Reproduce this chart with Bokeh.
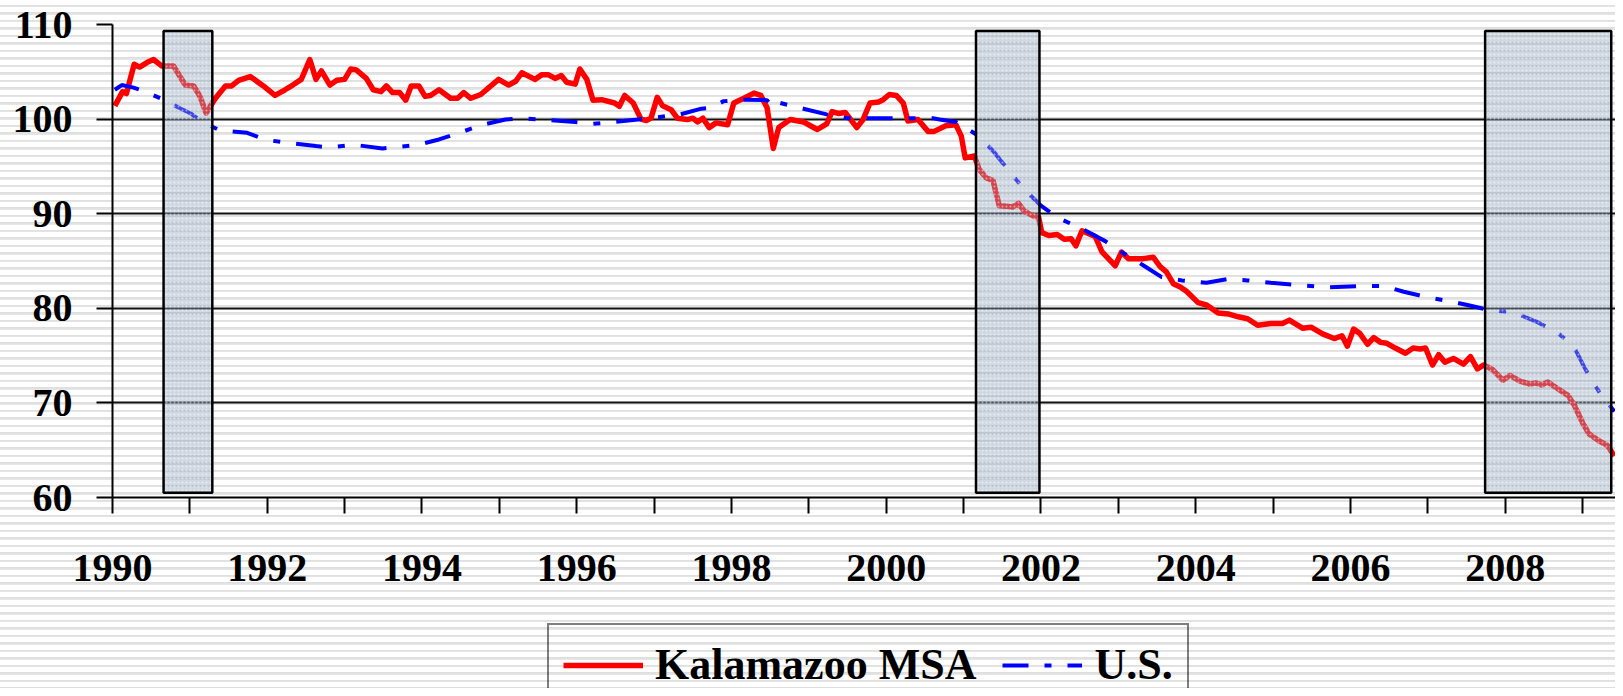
from bokeh.plotting import figure
from bokeh.models import (ColumnDataSource, Range1d, FixedTicker, Legend, LegendItem)
from bokeh.layouts import column
from bokeh.embed import file_html
from bokeh.resources import INLINE

# ---- data (decimal year, index value) ----
kz_year = [1990.03, 1990.13, 1990.18, 1990.28, 1990.35, 1990.45, 1990.53, 1990.64, 1990.79, 1990.94,
           1991.05, 1991.13, 1991.21, 1991.33, 1991.46, 1991.54, 1991.63, 1991.78, 1991.95, 1992.10,
           1992.23, 1992.33, 1992.44, 1992.55, 1992.63, 1992.70, 1992.81, 1992.90, 1993.00, 1993.08,
           1993.15, 1993.28, 1993.37, 1993.47, 1993.54, 1993.62, 1993.71, 1993.79, 1993.86, 1993.96,
           1994.04, 1994.11, 1994.22, 1994.37, 1994.46, 1994.54, 1994.63, 1994.76, 1994.86, 1994.99,
           1995.12, 1995.21, 1995.29, 1995.46, 1995.55, 1995.63, 1995.72, 1995.80, 1995.87, 1995.98,
           1996.04, 1996.13, 1996.21, 1996.32, 1996.49, 1996.55, 1996.62, 1996.73, 1996.83, 1996.90,
           1996.96, 1997.04, 1997.11, 1997.22, 1997.30, 1997.43, 1997.50, 1997.56, 1997.63, 1997.71,
           1997.80, 1997.95, 1998.03, 1998.16, 1998.29, 1998.38, 1998.46, 1998.54, 1998.61, 1998.76,
           1998.93, 1999.02, 1999.11, 1999.23, 1999.30, 1999.38, 1999.47, 1999.62, 1999.70, 1999.79,
           1999.90, 1999.96, 2000.04, 2000.13, 2000.22, 2000.28, 2000.41, 2000.54, 2000.62, 2000.77,
           2000.90, 2000.97, 2001.02, 2001.14, 2001.20, 2001.29, 2001.38, 2001.46, 2001.55, 2001.63,
           2001.71, 2001.78, 2001.89, 2001.97, 2002.01, 2002.10, 2002.21, 2002.30, 2002.39, 2002.45,
           2002.53, 2002.70, 2002.79, 2002.96, 2003.04, 2003.13, 2003.24, 2003.32, 2003.45, 2003.54,
           2003.62, 2003.71, 2003.80, 2003.88, 2004.03, 2004.14, 2004.29, 2004.42, 2004.55, 2004.67,
           2004.80, 2004.97, 2005.12, 2005.21, 2005.38, 2005.49, 2005.64, 2005.79, 2005.89, 2005.96,
           2006.04, 2006.12, 2006.22, 2006.30, 2006.39, 2006.47, 2006.58, 2006.71, 2006.81, 2006.90,
           2006.97, 2007.06, 2007.14, 2007.22, 2007.33, 2007.46, 2007.55, 2007.64, 2007.72, 2007.84,
           2007.97, 2008.06, 2008.19, 2008.32, 2008.40, 2008.47, 2008.55, 2008.66, 2008.81, 2008.89,
           2009.00, 2009.08, 2009.21, 2009.32, 2009.41]
kz_value = [101.4, 102.9, 102.7, 105.8, 105.5, 106.0, 106.3, 105.6, 105.6, 103.6,
            103.5, 102.4, 100.65, 102.2, 103.5, 103.5, 104.1, 104.5, 103.5, 102.5,
            103.1, 103.6, 104.2, 106.3, 104.2, 105.1, 103.6, 104.1, 104.2, 105.3,
            105.2, 104.3, 103.1, 102.9, 103.5, 102.8, 102.8, 102.0, 103.5, 103.5,
            102.4, 102.5, 103.1, 102.2, 102.2, 102.8, 102.2, 102.6, 103.3, 104.2,
            103.6, 104.0, 104.9, 104.2, 104.7, 104.7, 104.3, 104.6, 103.9, 103.7,
            105.3, 104.2, 102.0, 102.05, 101.7, 101.35, 102.5, 101.7, 100.0, 99.85,
            100.1, 102.3, 101.4, 101.0, 100.1, 99.95, 100.1, 99.7, 100.1, 99.1,
            99.6, 99.4, 101.7, 102.2, 102.75, 102.5, 101.2, 96.9, 99.1, 99.95,
            99.7, 99.3, 98.9, 99.5, 100.8, 100.6, 100.7, 99.1, 99.95, 101.7,
            101.8, 102.05, 102.6, 102.5, 101.7, 99.8, 99.95, 98.7, 98.7, 99.3,
            99.4, 98.2, 95.9, 96.1, 94.7, 93.8, 93.5, 90.85, 90.8, 90.7,
            91.1, 90.3, 89.8, 89.6, 88.0, 87.7, 87.8, 87.3, 87.35, 86.6,
            88.2, 87.6, 85.95, 84.5, 85.95, 85.25, 85.25, 85.25, 85.4, 84.4,
            83.85, 82.6, 82.25, 81.8, 80.6, 80.35, 79.5, 79.4, 79.1, 78.9,
            78.2, 78.4, 78.4, 78.75, 77.9, 78.0, 77.3, 76.8, 77.1, 76.0,
            77.8, 77.35, 76.2, 76.9, 76.4, 76.3, 75.8, 75.25, 75.8, 75.7,
            75.8, 74.0, 75.1, 74.3, 74.7, 74.1, 74.9, 73.6, 74.0, 73.5,
            72.4, 72.9, 72.3, 72.0, 72.1, 71.9, 72.2, 71.6, 70.8, 69.8,
            67.9, 66.75, 66.0, 65.5, 64.4]

us_year = [1990.03, 1990.12, 1990.26, 1990.36, 1990.62, 1990.86, 1991.01, 1991.16, 1991.39, 1991.74,
           1991.99, 1992.25, 1992.63, 1992.81, 1993.11, 1993.49, 1993.62, 1993.96, 1994.22, 1994.50,
           1994.78, 1995.08, 1995.29, 1995.63, 1995.98, 1996.21, 1996.49, 1996.79, 1997.05, 1997.34,
           1997.61, 1997.73, 1997.90, 1998.18, 1998.46, 1998.54, 1998.63, 1998.93, 1999.23, 1999.49,
           1999.79, 2000.13, 2000.39, 2000.60, 2000.69, 2000.90, 2001.20, 2001.40, 2001.57, 2001.78,
           2002.00, 2002.21, 2002.53, 2002.83, 2003.01, 2003.32, 2003.56, 2003.82, 2004.14, 2004.42,
           2004.67, 2004.97, 2005.27, 2005.70, 2006.11, 2006.43, 2006.69, 2006.97, 2007.37, 2007.54,
           2007.80, 2008.10, 2008.40, 2008.68, 2008.89, 2009.04, 2009.21, 2009.41]
us_value = [103.1, 103.6, 103.35, 103.1, 102.2, 101.2, 100.6, 99.7, 98.8, 98.55,
            97.8, 97.5, 97.15, 97.0, 97.3, 96.9, 97.0, 97.3, 97.85, 98.6,
            99.4, 99.95, 100.1, 99.9, 99.7, 99.5, 99.7, 99.95, 100.2, 100.5,
            101.1, 101.2, 101.9, 102.05, 102.0, 101.2, 101.7, 101.1, 100.5, 100.1,
            100.1, 100.1, 100.1, 100.1, 99.95, 99.7, 98.2, 96.45, 94.7, 92.6,
            90.85, 89.6, 88.4, 87.1, 86.1, 84.55, 83.3, 82.95, 82.7, 83.1,
            82.95, 82.7, 82.5, 82.2, 82.35, 82.35, 81.75, 81.2, 80.6, 80.3,
            79.8, 79.6, 78.6, 77.4, 75.9, 73.5, 71.2, 69.1]

rec_start = [1990.66, 2001.16, 2007.74]
rec_end = [1991.29, 2001.98, 2009.37]
rec_bottom = [60.5, 60.5, 60.5]
rec_top = [109.3, 109.3, 109.3]

y_ticks = [60, 70, 80, 90, 100, 110]
x_ticks = list(range(1990, 2010))
x_labels = {t: (str(t) if t % 2 == 0 else "") for t in x_ticks}
series_names = ["Kalamazoo MSA", "U.S."]

FONT = "Liberation Serif"
RED = dict(line_color="#ff0000", line_width=5.5, line_join="round")
BLUE = dict(line_color="#0000ff", line_width=4, line_dash="26 16 7 16")

# ---- main chart ----
p = figure(frame_width=1503, frame_height=473, output_backend="svg", toolbar_location=None,
           x_range=Range1d(1990.0, 2009.425), y_range=Range1d(60, 110),
           min_border_left=112, min_border_right=0, min_border_top=24, min_border_bottom=104)
p.background_fill_alpha = 0
p.border_fill_alpha = 0
p.outline_line_color = None

red = p.line(kz_year, kz_value, **RED)
blue = p.line(us_year, us_value, **BLUE)

rsrc = ColumnDataSource(dict(left=rec_start, right=rec_end, bottom=rec_bottom, top=rec_top))
p.quad(left="left", right="right", bottom="bottom", top="top", source=rsrc,
       fill_color="#8ea4ba", fill_alpha=0.42, line_color="black", line_width=2.5,
       hatch_pattern="dot", hatch_color="white", hatch_alpha=0.5, hatch_scale=4)

for ax in (p.xaxis[0], p.yaxis[0]):
    ax.axis_line_color = "black"
    ax.axis_line_width = 2
    ax.major_tick_line_color = "black"
    ax.major_tick_line_width = 2
    ax.major_tick_out = 16
    ax.major_tick_in = 0
    ax.minor_tick_line_color = None
    ax.major_label_text_font = FONT
    ax.major_label_text_font_style = "bold"
    ax.major_label_text_font_size = "40px"
    ax.major_label_text_color = "black"

p.xaxis[0].ticker = FixedTicker(ticks=x_ticks)
p.xaxis[0].major_label_overrides = x_labels
p.xaxis[0].major_label_standoff = 41
p.yaxis[0].ticker = FixedTicker(ticks=y_ticks)
p.yaxis[0].major_label_standoff = 24

p.xgrid.grid_line_color = None
p.ygrid.grid_line_color = "#111111"
p.ygrid.grid_line_width = 2
p.ygrid.ticker = FixedTicker(ticks=y_ticks)

# ---- legend strip (cut at the bottom like the reference) ----
leg = figure(frame_width=1503, frame_height=87, output_backend="svg", toolbar_location=None,
             x_range=Range1d(0, 1), y_range=Range1d(0, 1),
             x_axis_location=None, y_axis_location=None,
             min_border_left=112, min_border_right=0, min_border_top=0, min_border_bottom=0)
leg.background_fill_alpha = 0
leg.border_fill_alpha = 0
leg.outline_line_color = None
leg.grid.grid_line_color = None
# legend proxies: same series, drawn off the visible range of this strip
r1 = leg.line(kz_year[:2], kz_value[:2], **RED)
r2 = leg.line(us_year[:2], us_value[:2], **BLUE)
legend = Legend(items=[LegendItem(label=series_names[0], renderers=[r1]),
                       LegendItem(label=series_names[1], renderers=[r2])],
                orientation="horizontal", location=(435, -18), margin=0,
                label_text_font=FONT, label_text_font_style="bold", label_text_font_size="44px",
                label_text_color="black", glyph_width=80, glyph_height=30,
                label_standoff=12, spacing=26, padding=14,
                border_line_color="black", border_line_width=2,
                background_fill_alpha=0)
leg.add_layout(legend, "center")

layout = column(p, leg, spacing=0)
layout.styles = {"background-image": "repeating-linear-gradient(to bottom, #ffffff 0px, #ffffff 5px, #dedede 5px, #e8e8e8 7.5px)"}

open("out.html", "w").write(file_html(layout, INLINE))
